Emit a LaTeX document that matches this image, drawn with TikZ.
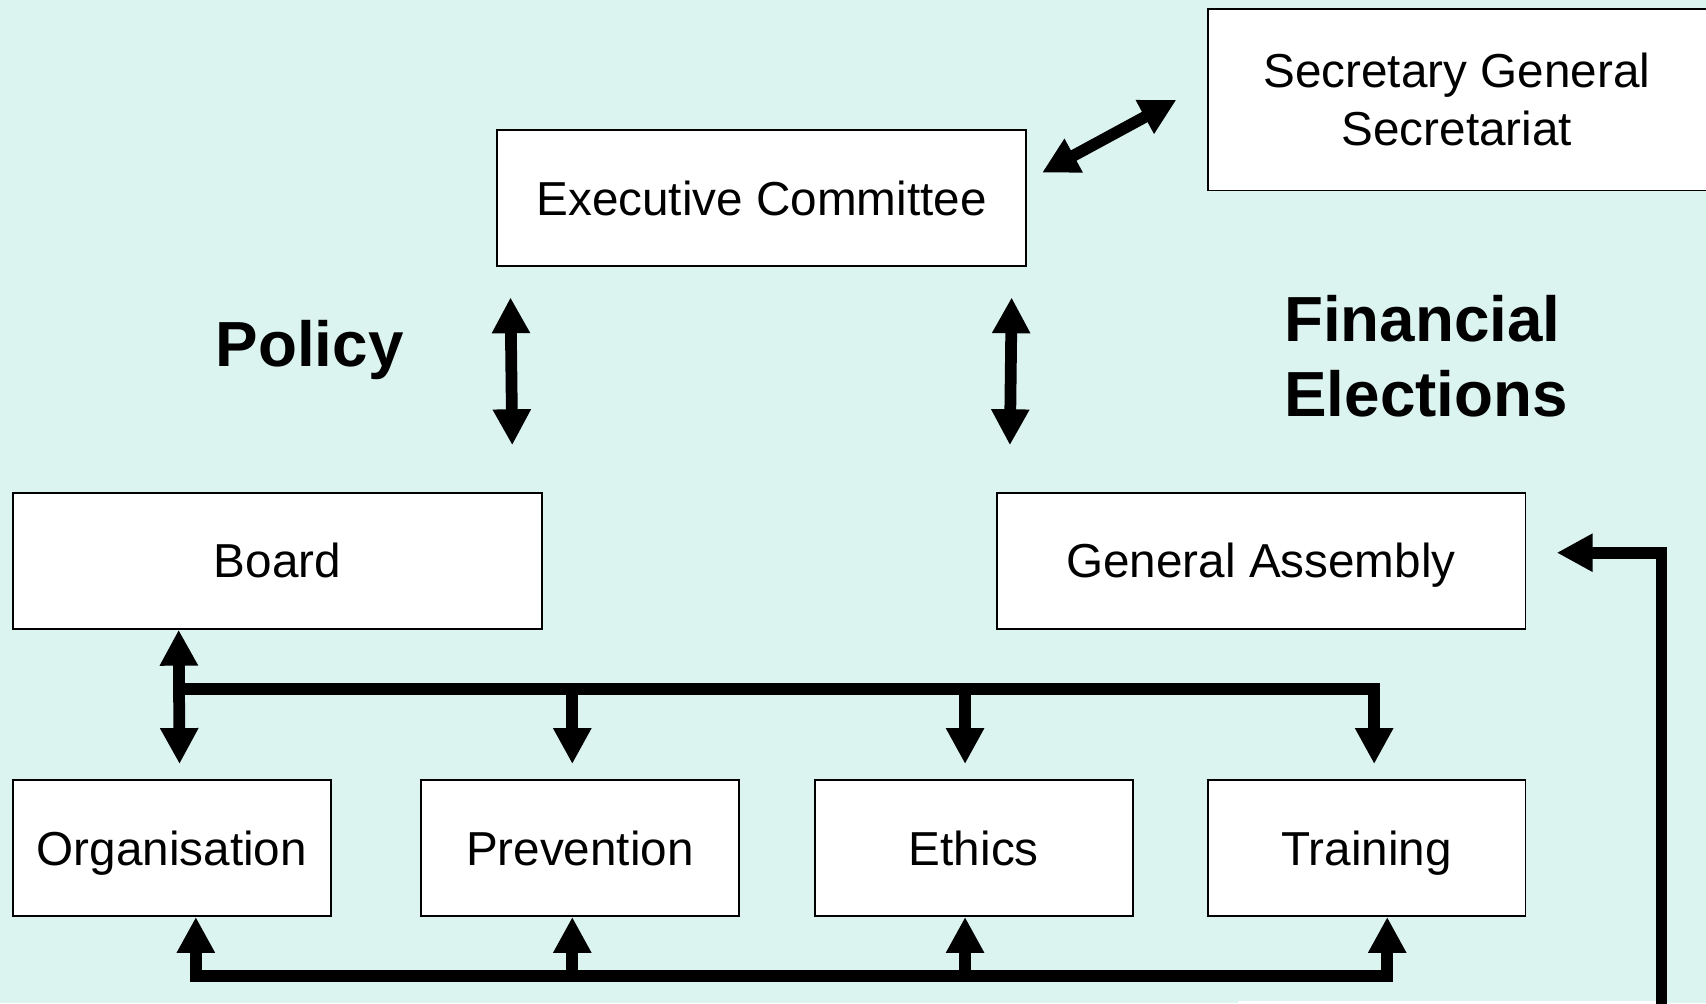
\documentclass[tikz,border=0pt]{standalone}
\usepackage{fontspec}
\setmainfont{Liberation Sans}
\usetikzlibrary{arrows.meta,calc}
\definecolor{bgc}{RGB}{220,244,240}
\begin{document}
\begin{tikzpicture}[x=0.5pt,y=-0.5pt,
  box/.style={draw=black, fill=white, line width=0.8pt, minimum width=243pt,
    minimum height=62.5pt, inner sep=0pt, font=\fontsize{21.9}{26.9}\selectfont,
    text height=15.7pt, text depth=0pt},
  smallbox/.style={box, minimum width=146pt},
  txt/.style={inner sep=0pt, font=\fontsize{21.9}{26.9}\selectfont},
  boldtxt/.style={inner sep=0pt, font=\fontsize{29.3}{35}\selectfont\bfseries},
  tip/.tip={Triangle[width=16.5pt,length=16.5pt]},
  arr/.style={line width=5.4pt, line join=miter, -tip},
  dblarr/.style={line width=5.4pt, line join=miter, tip-tip}]
\useasboundingbox (0,0) rectangle (1568,922);
\clip (0,0) rectangle (1568,922);
\fill[bgc] (0,0) rectangle (1568,922);
\fill[white] (1138,920) rectangle (1522,940);

% boxes
\node[box] (exec) at (700,182) {Executive Committee};
\node[box] (board) at (255,515.5) {Board};
\node[box] (ga) at (1159,515.5) {General Assembly};
\node[smallbox] (org) at (158,779.5) {Organisation};
\node[smallbox] (prev) at (533,779.5) {Prevention};
\node[smallbox] (eth) at (895,779.5) {Ethics};
\node[smallbox] (train) at (1256,779.5) {Training};
\node[box, minimum width=255pt, minimum height=83.5pt] (sec) at (1365,91.5) {};
\node[txt, align=center, anchor=base] (sectxt) at (1339,134) {Secretary General\\Secretariat};

% labels
\node[boldtxt, anchor=base] (policy) at (284.5,337) {Policy};
\node[boldtxt, anchor=base west] (fin) at (1180,314) {Financial};
\node[boldtxt, anchor=base west] (elec) at (1180,383) {Elections};

% top connectors
\draw[dblarr] ($(exec.north east)+(14,40)$) -- ($(sec.south west)+(-28,-84)$);
\draw[dblarr] ($(exec.south west)+(13,28)$) -- ($(board.north east)+(-28,-43)$);
\draw[dblarr] ($(exec.south east)+(-14,28)$) -- ($(ga.north west)+(13,-43)$);

% board to committees
\draw[dblarr] ($(board.south west)+(153,0)$) -- ($(org.north)+(7,-14)$);
\coordinate (j) at (165,633);
\coordinate (prevtip) at ($(prev.north)+(-7,-14)$);
\coordinate (ethtip) at ($(eth.north)+(-8,-14)$);
\draw[arr] (j) -| ($(train.north)+(7,-14)$);
\draw[arr] (j -| prevtip) -- (prevtip);
\draw[arr] (j -| ethtip) -- (ethtip);

% bottom bus
\coordinate (b) at (0,897);
\coordinate (orgup) at ($(org.south)+(22,0)$);
\coordinate (prevup) at ($(prev.south)+(-7,0)$);
\coordinate (ethup) at ($(eth.south)+(-8,0)$);
\coordinate (trainup) at ($(train.south)+(19,0)$);
\draw[dblarr] (orgup) -- (orgup |- b) -- (trainup |- b) -- (trainup);
\draw[arr] (prevup |- b) -- (prevup);
\draw[arr] (ethup |- b) -- (ethup);

% feedback to General Assembly
\coordinate (fb) at (1527,945);
\draw[arr] (fb) |- ($(ga.east)+(28,-7.5)$);
\end{tikzpicture}
\end{document}
